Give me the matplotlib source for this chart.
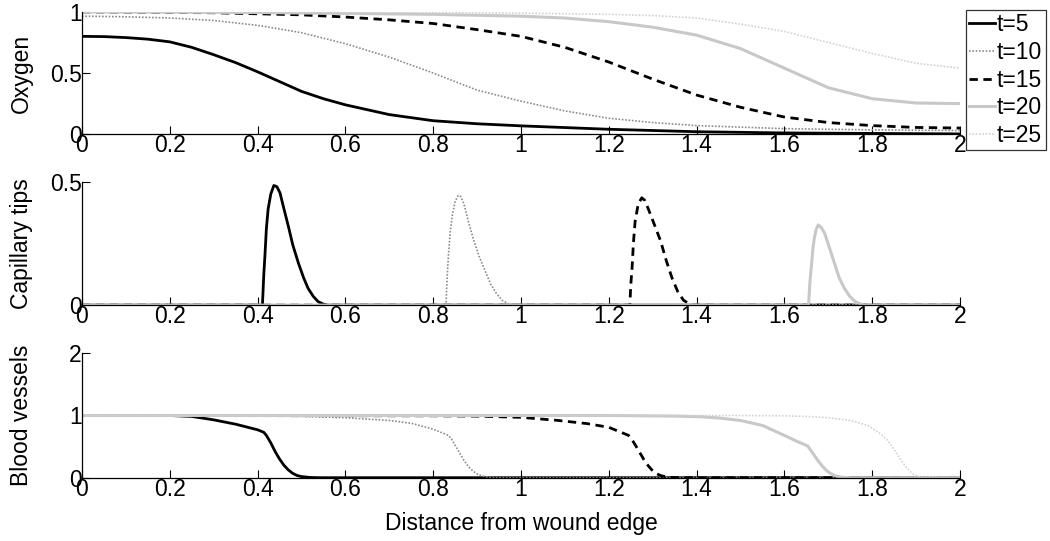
import matplotlib
matplotlib.use("Agg")
import matplotlib.pyplot as plt

plt.rcParams["font.family"] = ["Liberation Sans", "DejaVu Sans"]
FS = 16.5

times = ["t=5", "t=10", "t=15", "t=20", "t=25"]

# Oxygen (top panel)
oxy_x = {
    "t=5": [0, 0.05, 0.1, 0.15, 0.2, 0.25, 0.3, 0.35, 0.4, 0.45, 0.5, 0.55, 0.6, 0.7, 0.8, 0.9,
            1.0, 1.2, 1.4, 1.6, 2.0],
    "t=10": [0, 0.1, 0.2, 0.3, 0.4, 0.5, 0.6, 0.7, 0.8, 0.9, 1.0, 1.1, 1.2, 1.3, 1.4, 1.6, 1.8, 2.0],
    "t=15": [0, 0.3, 0.5, 0.6, 0.7, 0.8, 0.9, 1.0, 1.1, 1.2, 1.3, 1.4, 1.5, 1.6, 1.7, 1.8, 1.9, 2.0],
    "t=20": [0, 0.4, 0.8, 1.0, 1.1, 1.2, 1.3, 1.4, 1.5, 1.6, 1.7, 1.8, 1.9, 2.0],
    "t=25": [0, 0.8, 1.0, 1.2, 1.3, 1.4, 1.5, 1.6, 1.7, 1.8, 1.9, 2.0],
}
oxy_y = {
    "t=5": [0.80, 0.798, 0.79, 0.777, 0.755, 0.71, 0.65, 0.585, 0.51, 0.43, 0.35, 0.29, 0.24,
            0.16, 0.11, 0.085, 0.068, 0.04, 0.02, 0.01, 0.002],
    "t=10": [0.965, 0.96, 0.95, 0.93, 0.89, 0.83, 0.74, 0.63, 0.50, 0.36, 0.27, 0.19, 0.13,
             0.095, 0.07, 0.045, 0.035, 0.03],
    "t=15": [1.0, 0.993, 0.976, 0.958, 0.935, 0.905, 0.855, 0.80, 0.71, 0.59, 0.45, 0.32,
             0.22, 0.14, 0.095, 0.07, 0.055, 0.05],
    "t=20": [1.0, 0.995, 0.98, 0.965, 0.95, 0.92, 0.875, 0.81, 0.70, 0.54, 0.38, 0.29, 0.255, 0.25],
    "t=25": [1.0, 0.997, 0.99, 0.98, 0.97, 0.95, 0.90, 0.84, 0.75, 0.66, 0.58, 0.54],
}

# Capillary tips (middle panel)
cap_x = {
    "t=5": [0, 0.411, 0.414, 0.417, 0.42, 0.424, 0.43, 0.437, 0.444, 0.451, 0.46, 0.47,
            0.48, 0.493, 0.505, 0.515, 0.527, 0.538, 0.55, 0.56, 2.0],
    "t=10": [0, 0.829, 0.832, 0.835, 0.839, 0.844, 0.85, 0.857, 0.863, 0.87, 0.88, 0.891,
             0.904, 0.918, 0.931, 0.944, 0.957, 0.97, 0.985, 2.0],
    "t=15": [0, 1.248, 1.25, 1.253, 1.256, 1.26, 1.267, 1.275, 1.282, 1.29, 1.303, 1.318,
             1.331, 1.344, 1.357, 1.37, 1.388, 2.0],
    "t=20": [0, 1.655, 1.658, 1.662, 1.665, 1.668, 1.672, 1.677, 1.684, 1.692, 1.703, 1.714,
             1.725, 1.736, 1.749, 1.762, 1.78, 2.0],
    "t=25": [0, 2.0],
}
cap_y = {
    "t=5": [0, 0, 0.12, 0.21, 0.31, 0.39, 0.45, 0.485, 0.48, 0.455, 0.39, 0.32, 0.245,
            0.17, 0.11, 0.068, 0.035, 0.014, 0.004, 0, 0],
    "t=10": [0, 0, 0.12, 0.21, 0.30, 0.37, 0.42, 0.445, 0.44, 0.41, 0.34, 0.27, 0.20,
             0.14, 0.085, 0.047, 0.02, 0.007, 0, 0],
    "t=15": [0, 0, 0.08, 0.15, 0.25, 0.34, 0.41, 0.435, 0.425, 0.39, 0.33, 0.26, 0.18,
             0.11, 0.055, 0.02, 0, 0],
    "t=20": [0, 0, 0.09, 0.17, 0.23, 0.27, 0.305, 0.325, 0.315, 0.29, 0.23, 0.17, 0.11,
             0.07, 0.035, 0.013, 0, 0],
    "t=25": [0, 0],
}

# Blood vessels (bottom panel)
bv_x = {
    "t=5": [0, 0.2, 0.25, 0.3, 0.35, 0.4, 0.414, 0.42, 0.43, 0.44, 0.45, 0.46, 0.47, 0.48,
            0.49, 0.50, 0.52, 0.54, 2.0],
    "t=10": [0, 0.4, 0.5, 0.6, 0.7, 0.75, 0.8, 0.835, 0.842, 0.85, 0.86, 0.87, 0.88, 0.89,
             0.90, 0.91, 0.925, 0.94, 2.0],
    "t=15": [0, 0.8, 0.9, 1.0, 1.085, 1.15, 1.2, 1.245, 1.252, 1.26, 1.27, 1.28, 1.29, 1.30,
             1.31, 1.32, 1.34, 1.36, 2.0],
    "t=20": [0, 1.2, 1.35, 1.41, 1.45, 1.5, 1.55, 1.6, 1.63, 1.653, 1.66, 1.668, 1.677, 1.686,
             1.695, 1.705, 1.714, 1.73, 1.75, 2.0],
    "t=25": [0, 1.5, 1.6, 1.65, 1.7, 1.75, 1.79, 1.82, 1.835, 1.843, 1.852, 1.86, 1.868,
             1.876, 1.885, 1.895, 1.91, 2.0],
}
bv_y = {
    "t=5": [1.0, 1.0, 0.985, 0.93, 0.86, 0.77, 0.73, 0.68, 0.56, 0.42, 0.30, 0.20, 0.125,
            0.07, 0.035, 0.018, 0.004, 0, 0],
    "t=10": [1.0, 0.995, 0.985, 0.965, 0.92, 0.875, 0.78, 0.68, 0.62, 0.52, 0.40, 0.28,
             0.18, 0.11, 0.06, 0.03, 0.008, 0, 0],
    "t=15": [1.0, 0.995, 0.99, 0.97, 0.92, 0.87, 0.81, 0.68, 0.62, 0.53, 0.41, 0.29, 0.19,
             0.11, 0.06, 0.03, 0.006, 0, 0],
    "t=20": [1.0, 1.0, 0.99, 0.98, 0.96, 0.92, 0.84, 0.68, 0.58, 0.51, 0.44, 0.36, 0.27, 0.19,
             0.12, 0.07, 0.035, 0.008, 0, 0],
    "t=25": [1.0, 1.0, 0.995, 0.985, 0.965, 0.92, 0.84, 0.70, 0.60, 0.52, 0.43, 0.34, 0.26,
             0.18, 0.11, 0.05, 0.01, 0],
}

styles = {
    "t=5": dict(color="black", ls="-", lw=2.0),
    "t=10": dict(color="#8c8c8c", ls=(0, (1, 1)), lw=1.2),
    "t=15": dict(color="black", ls=(0, (3, 2)), lw=2.0),
    "t=20": dict(color="#c8c8c8", ls="-", lw=2.2),
    "t=25": dict(color="#d2d2d2", ls=(0, (1, 1)), lw=1.2),
}

fig = plt.figure(figsize=(10.5, 5.41), dpi=100)
left, width = 82 / 1050, 878 / 1050
panels = [
    (oxy_x, oxy_y, "Oxygen", (0, 1), [0, 0.5, 1], ["0", "0.5", "1"], 0.752, 0.226),
    (cap_x, cap_y, "Capillary tips", (0, 0.5), [0, 0.5], ["0", "0.5"], 0.436, 0.228),
    (bv_x, bv_y, "Blood vessels", (0, 2), [0, 1, 2], ["0", "1", "2"], 0.117, 0.230),
]

xticks = [0, 0.2, 0.4, 0.6, 0.8, 1.0, 1.2, 1.4, 1.6, 1.8, 2.0]
xticklabels = ["0", "0.2", "0.4", "0.6", "0.8", "1", "1.2", "1.4", "1.6", "1.8", "2"]

axes = []
for xs, ys, label, ylim, yt, ytl, bottom, height in panels:
    ax = fig.add_axes([left, bottom, width, height])
    for t in times:
        ax.plot(xs[t], ys[t], label=t, **styles[t])
    ax.set_xlim(0, 2)
    ax.set_ylim(*ylim)
    ax.set_xticks(xticks)
    ax.set_xticklabels(xticklabels)
    ax.set_yticks(yt)
    ax.set_yticklabels(ytl)
    ax.spines["top"].set_visible(False)
    ax.spines["right"].set_visible(False)
    ax.tick_params(direction="in", length=6, width=0.8, pad=0, labelsize=FS)
    ax.set_ylabel(label, fontsize=FS)
    ax.yaxis.set_label_coords(-0.056, 0.5)
    for s in ax.spines.values():
        s.set_linewidth(0.9)
    axes.append(ax)

axes[2].set_xlabel("Distance from wound edge", fontsize=FS, labelpad=8)

leg = axes[0].legend(loc="upper left", bbox_to_anchor=(966 / 1050, 1 - 10 / 541),
                     bbox_transform=fig.transFigure, frameon=True, fancybox=False,
                     handlelength=1.1, handletextpad=0.1, borderpad=0.15,
                     borderaxespad=0, labelspacing=0.2, fontsize=FS)
leg.get_frame().set_edgecolor("black")
leg.get_frame().set_linewidth(0.9)

fig.savefig("out.png", dpi=100)
